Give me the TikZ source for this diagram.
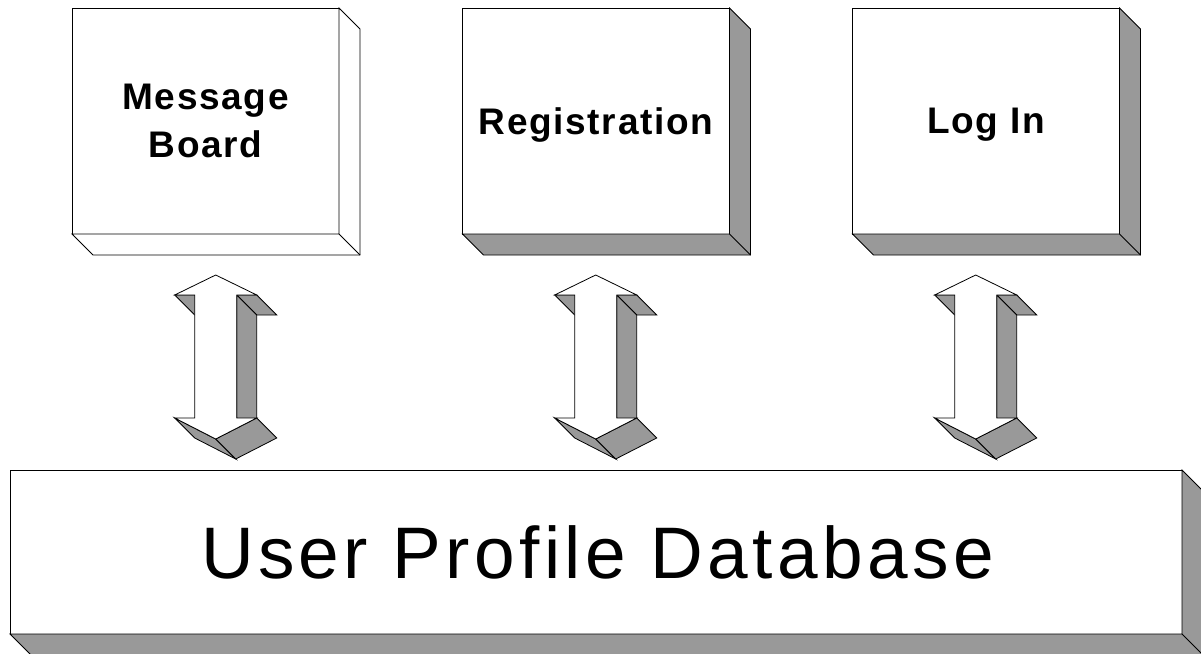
\documentclass[tikz,border=0pt]{standalone}
\usepackage{fontspec}
\newfontfamily\boxfont[LetterSpace=4.5]{Liberation Sans}
\newfontfamily\dbfont[LetterSpace=6]{Liberation Sans}
\definecolor{sidegray}{RGB}{153,153,153}
\begin{document}
\begin{tikzpicture}[x=1bp,y=-1bp,
  front/.style={draw=black, fill=white, line width=0.8bp},
  side/.style={draw=black, fill=sidegray, line width=0.8bp},
  box/.style={front, minimum width=267bp, minimum height=226bp, inner sep=0pt, outer sep=0pt,
    align=center, text depth=0pt, font=\boxfont\bfseries\fontsize{37bp}{48bp}\selectfont},
  biarrow/.pic={
    \filldraw[side] (-41,295) -- (-21,295) -- (-1,315) -- (-21,315) -- cycle;
    \filldraw[side] (21,295) -- (41,295) -- (61,315) -- (41,315) -- cycle;
    \filldraw[side] (21,295) -- (41,315) -- (41,438) -- (21,418) -- cycle;
    \filldraw[side] (-41,418) -- (0,439) -- (20,459) -- (-21,438) -- cycle;
    \filldraw[side] (41,418) -- (0,439) -- (20,459) -- (61,438) -- cycle;
    \filldraw[front] (0,275) -- (41,295) -- (21,295) -- (21,418) -- (41,418) -- (0,439)
      -- (-41,418) -- (-21,418) -- (-21,295) -- (-41,295) -- cycle;
  }
]
\useasboundingbox (0,0) rectangle (1201,654);

\node[box] (mb)  at (205.5,121) {Message\\Board};
\node[box] (reg) at (596,121) {Registration};
\node[box] (li)  at (986,121) {Log In};
\node[front, minimum width=1172bp, minimum height=164bp, inner sep=0pt, outer sep=0pt,
  font=\dbfont\fontsize{73bp}{80bp}\selectfont] (db) at (596,552) {\hspace{3bp}User Profile Database};

\foreach \n/\c in {mb/white, reg/sidegray, li/sidegray, db/sidegray} {
  \filldraw[side, fill=\c] (\n.north east) -- ([shift={(21,21)}]\n.north east)
    -- ([shift={(21,21)}]\n.south east) -- ([shift={(21,21)}]\n.south west)
    -- (\n.south west) -- (\n.south east) -- cycle;
  \draw[line width=0.8bp] (\n.south east) -- ([shift={(21,21)}]\n.south east);
}

\coordinate (a1) at (215.7,0);
\coordinate (a2) at (595.7,0);
\coordinate (a3) at (975.7,0);
\pic at (a1) {biarrow};
\pic at (a2) {biarrow};
\pic at (a3) {biarrow};
\end{tikzpicture}
\end{document}
